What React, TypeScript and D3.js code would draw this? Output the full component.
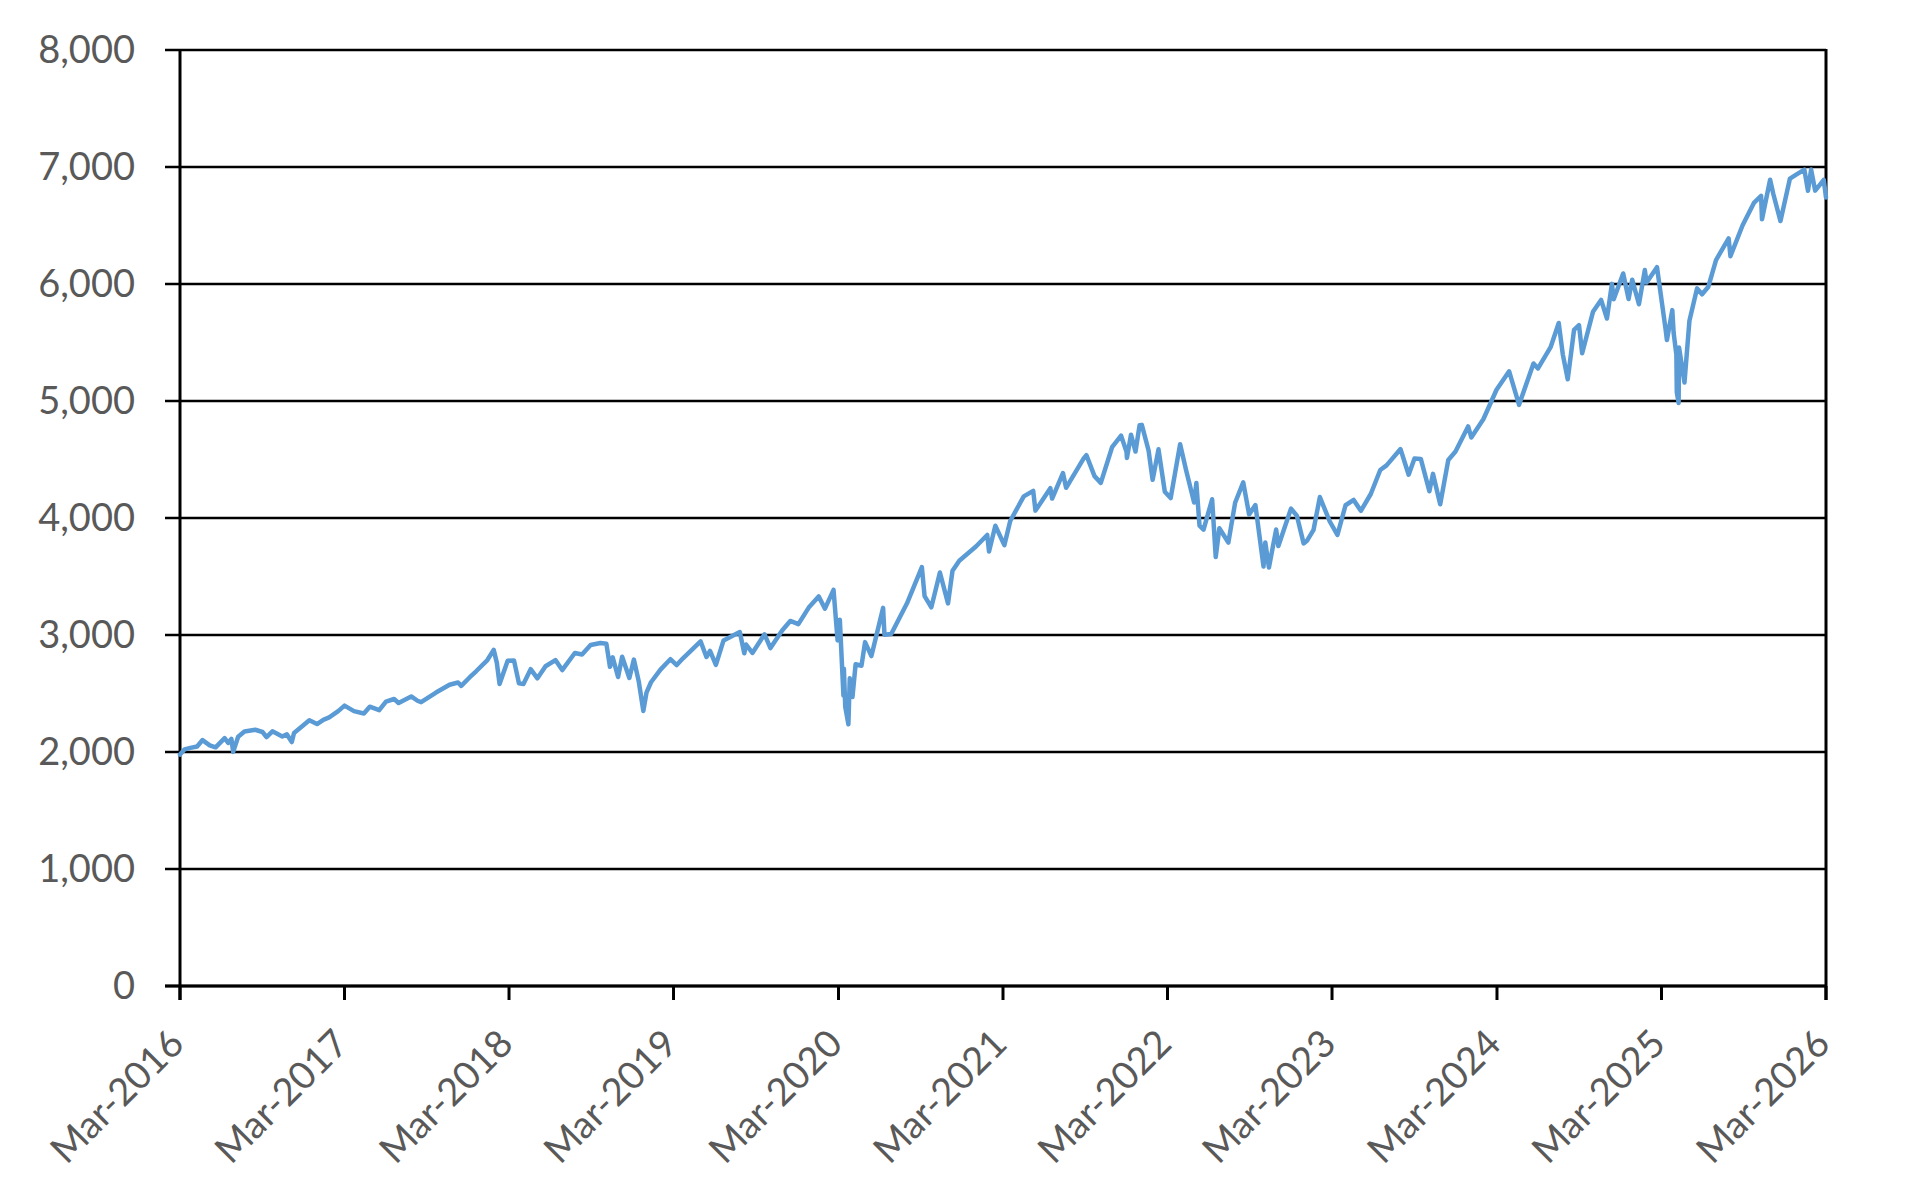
import * as d3 from 'd3';
import { useEffect, useRef } from 'react';

// S&P 500 style index level (date, close)
const series2016: [string, number][] = [
    ['2016-03-01', 1978], ['2016-03-11', 2022], ['2016-03-24', 2035], ['2016-04-08', 2047], ['2016-04-20', 2102],
    ['2016-05-06', 2057], ['2016-05-19', 2040], ['2016-06-08', 2119], ['2016-06-16', 2077], ['2016-06-23', 2113],
    ['2016-06-27', 2001], ['2016-07-08', 2130], ['2016-07-22', 2175], ['2016-08-15', 2190], ['2016-08-31', 2171],
    ['2016-09-09', 2128], ['2016-09-22', 2177], ['2016-10-14', 2133], ['2016-10-24', 2151], ['2016-11-04', 2085],
    ['2016-11-09', 2163], ['2016-11-25', 2213], ['2016-12-13', 2271], ['2016-12-30', 2239],
];
const series2017: [string, number][] = [
    ['2017-01-13', 2275], ['2017-01-26', 2296], ['2017-02-15', 2349], ['2017-03-01', 2396], ['2017-03-22', 2349],
    ['2017-04-13', 2329], ['2017-04-26', 2387], ['2017-05-17', 2357], ['2017-06-01', 2431], ['2017-06-19', 2453],
    ['2017-06-29', 2419], ['2017-07-27', 2475], ['2017-08-10', 2438], ['2017-08-18', 2426], ['2017-09-20', 2508],
    ['2017-10-20', 2575], ['2017-11-08', 2594], ['2017-11-15', 2565], ['2017-12-04', 2639], ['2017-12-18', 2690],
];
const series2018: [string, number][] = [
    ['2018-01-12', 2786], ['2018-01-26', 2873], ['2018-02-02', 2762], ['2018-02-08', 2581], ['2018-02-26', 2780],
    ['2018-03-12', 2783], ['2018-03-23', 2588], ['2018-04-02', 2582], ['2018-04-18', 2708], ['2018-05-03', 2630],
    ['2018-05-21', 2733], ['2018-06-12', 2786], ['2018-06-27', 2700], ['2018-07-25', 2846], ['2018-08-10', 2833],
    ['2018-08-29', 2914], ['2018-09-20', 2931], ['2018-10-03', 2925], ['2018-10-11', 2728], ['2018-10-17', 2809],
    ['2018-10-29', 2641], ['2018-11-07', 2814], ['2018-11-23', 2633], ['2018-12-03', 2790], ['2018-12-14', 2600],
    ['2018-12-24', 2351], ['2018-12-31', 2507],
];
const series2019: [string, number][] = [
    ['2019-01-10', 2596], ['2019-01-31', 2704], ['2019-02-22', 2793], ['2019-03-08', 2743], ['2019-03-22', 2801],
    ['2019-04-30', 2946], ['2019-05-13', 2812], ['2019-05-21', 2864], ['2019-06-03', 2744], ['2019-06-20', 2954],
    ['2019-07-26', 3025], ['2019-08-05', 2844], ['2019-08-09', 2919], ['2019-08-23', 2847], ['2019-09-19', 3006],
    ['2019-10-02', 2888], ['2019-10-28', 3039], ['2019-11-15', 3120], ['2019-12-03', 3093], ['2019-12-27', 3240],
];
const series2020: [string, number][] = [
    ['2020-01-17', 3330], ['2020-01-31', 3225], ['2020-02-19', 3386], ['2020-02-28', 2954], ['2020-03-04', 3130],
    ['2020-03-12', 2481], ['2020-03-13', 2711], ['2020-03-16', 2386], ['2020-03-23', 2237], ['2020-03-26', 2630],
    ['2020-04-01', 2470], ['2020-04-08', 2750], ['2020-04-21', 2737], ['2020-04-29', 2939], ['2020-05-13', 2820],
    ['2020-06-08', 3232], ['2020-06-11', 3002], ['2020-06-26', 3009], ['2020-07-31', 3271], ['2020-09-02', 3580],
    ['2020-09-08', 3332], ['2020-09-23', 3237], ['2020-10-12', 3534], ['2020-10-30', 3270], ['2020-11-09', 3550],
    ['2020-11-24', 3635], ['2020-12-31', 3756],
];
const series2021: [string, number][] = [
    ['2021-01-25', 3855], ['2021-01-29', 3714], ['2021-02-12', 3934], ['2021-03-04', 3768], ['2021-03-17', 3974],
    ['2021-04-16', 4185], ['2021-05-07', 4232], ['2021-05-12', 4063], ['2021-06-14', 4255], ['2021-06-18', 4166],
    ['2021-07-12', 4384], ['2021-07-19', 4258], ['2021-08-27', 4509], ['2021-09-02', 4537], ['2021-09-20', 4358],
    ['2021-10-04', 4300], ['2021-10-29', 4605], ['2021-11-18', 4704], ['2021-11-30', 4567], ['2021-12-01', 4513],
    ['2021-12-10', 4712], ['2021-12-20', 4568], ['2021-12-29', 4793],
];
const series2022: [string, number][] = [
    ['2022-01-03', 4796], ['2022-01-18', 4577], ['2022-01-27', 4326], ['2022-02-09', 4587], ['2022-02-23', 4225],
    ['2022-03-08', 4170], ['2022-03-29', 4631], ['2022-04-11', 4413], ['2022-04-29', 4132], ['2022-05-04', 4300],
    ['2022-05-11', 3935], ['2022-05-20', 3901], ['2022-06-08', 4160], ['2022-06-16', 3666], ['2022-06-24', 3912],
    ['2022-07-14', 3790], ['2022-07-29', 4130], ['2022-08-16', 4305], ['2022-08-29', 4031], ['2022-09-12', 4110],
    ['2022-09-30', 3585], ['2022-10-04', 3791], ['2022-10-12', 3577], ['2022-10-28', 3901], ['2022-11-02', 3760],
    ['2022-11-30', 4080], ['2022-12-13', 4019], ['2022-12-28', 3783],
];
const series2023: [string, number][] = [
    ['2023-01-05', 3808], ['2023-01-19', 3898], ['2023-02-02', 4179], ['2023-02-24', 3970], ['2023-03-13', 3855],
    ['2023-03-31', 4109], ['2023-04-18', 4154], ['2023-05-04', 4061], ['2023-05-26', 4205], ['2023-06-16', 4410],
    ['2023-06-30', 4450], ['2023-07-31', 4589], ['2023-08-18', 4370], ['2023-08-31', 4508], ['2023-09-14', 4505],
    ['2023-10-03', 4229], ['2023-10-11', 4377], ['2023-10-27', 4117], ['2023-11-14', 4496], ['2023-11-30', 4568],
    ['2023-12-28', 4783],
];
const series2024: [string, number][] = [
    ['2024-01-04', 4688], ['2024-01-31', 4846], ['2024-02-29', 5096], ['2024-03-28', 5254], ['2024-04-19', 4967],
    ['2024-05-21', 5321], ['2024-05-31', 5278], ['2024-06-28', 5460], ['2024-07-16', 5667], ['2024-07-25', 5399],
    ['2024-08-05', 5186], ['2024-08-19', 5608], ['2024-08-30', 5648], ['2024-09-06', 5408], ['2024-09-30', 5762],
    ['2024-10-18', 5864], ['2024-10-31', 5705], ['2024-11-11', 6001], ['2024-11-15', 5870], ['2024-12-06', 6090],
    ['2024-12-18', 5872], ['2024-12-26', 6037],
];
const series2025: [string, number][] = [
    ['2025-01-10', 5827], ['2025-01-23', 6119], ['2025-01-27', 6012], ['2025-02-19', 6144], ['2025-03-10', 5615],
    ['2025-03-13', 5521], ['2025-03-25', 5777], ['2025-03-28', 5581], ['2025-04-03', 5396], ['2025-04-04', 5074],
    ['2025-04-08', 4983], ['2025-04-09', 5457], ['2025-04-21', 5158], ['2025-05-02', 5686], ['2025-05-19', 5963],
    ['2025-05-30', 5912], ['2025-06-13', 5977], ['2025-06-30', 6205], ['2025-07-28', 6390], ['2025-08-01', 6238],
    ['2025-08-28', 6502], ['2025-09-22', 6693], ['2025-10-08', 6753], ['2025-10-10', 6553], ['2025-10-28', 6891],
    ['2025-11-04', 6771], ['2025-11-20', 6538], ['2025-12-11', 6901], ['2025-12-24', 6932],
];
const series2026: [string, number][] = [
    ['2026-01-12', 6977], ['2026-01-20', 6797], ['2026-01-27', 6978], ['2026-02-05', 6798], ['2026-02-13', 6836],
    ['2026-02-24', 6890], ['2026-03-01', 6740],
];

const xTickLabels = [
    'Mar-2016', 'Mar-2017', 'Mar-2018', 'Mar-2019', 'Mar-2020', 'Mar-2021',
    'Mar-2022', 'Mar-2023', 'Mar-2024', 'Mar-2025', 'Mar-2026',
];
const yTicks = [0, 1000, 2000, 3000, 4000, 5000, 6000, 7000, 8000];

const App = () => {
    const ref = useRef<any>();

    useEffect(() => {
        const parseDate = d3.timeParse('%Y-%m-%d');
        const parseTick = d3.timeParse('%b-%Y');
        const dataset = [
            ...series2016, ...series2017, ...series2018, ...series2019, ...series2020, ...series2021,
            ...series2022, ...series2023, ...series2024, ...series2025, ...series2026,
        ].map(([d, v]) => ({ date: parseDate(d) as Date, value: v }));

        const margin = { top: 50, left: 180, right: 1826, bottom: 986 };
        const tickDates = xTickLabels.map((t) => parseTick(t) as Date);

        const svg = d3.select<any, any>(ref.current);
        svg.selectAll('*').remove();

        const xScale = d3.scaleTime()
            .domain([tickDates[0], tickDates[tickDates.length - 1]])
            .range([margin.left, margin.right]);
        const yScale = d3.scaleLinear()
            .domain([0, 8000])
            .range([margin.bottom, margin.top]);

        // horizontal gridlines incl. left tick stub
        svg.append('g')
            .selectAll('line')
            .data(yTicks)
            .join('line')
            .attr('x1', margin.left - 15)
            .attr('x2', margin.right)
            .attr('y1', (d) => yScale(d))
            .attr('y2', (d) => yScale(d))
            .attr('stroke', '#000')
            .attr('stroke-width', 2.4);

        // y labels
        svg.append('g')
            .selectAll('text')
            .data(yTicks)
            .join('text')
            .attr('x', 135)
            .attr('y', (d) => yScale(d))
            .attr('dy', '0.35em')
            .attr('text-anchor', 'end')
            .attr('fill', '#595959')
            .style('font-family', 'Lato, sans-serif')
            .style('font-size', '38px')
            .text((d) => d3.format(',')(d));

        // x axis line and ticks
        svg.append('line')
            .attr('x1', margin.left - 15)
            .attr('x2', margin.right)
            .attr('y1', margin.bottom)
            .attr('y2', margin.bottom)
            .attr('stroke', '#000')
            .attr('stroke-width', 3);

        svg.append('g')
            .selectAll('line')
            .data(tickDates)
            .join('line')
            .attr('x1', (d) => xScale(d))
            .attr('x2', (d) => xScale(d))
            .attr('y1', margin.bottom)
            .attr('y2', margin.bottom + 14)
            .attr('stroke', '#000')
            .attr('stroke-width', 3);

        // left axis and right border
        [margin.left, margin.right].forEach((x) => {
            svg.append('line')
                .attr('x1', x)
                .attr('x2', x)
                .attr('y1', margin.top - 1)
                .attr('y2', margin.bottom + 14)
                .attr('stroke', '#000')
                .attr('stroke-width', 3);
        });

        // rotated x labels
        svg.append('g')
            .selectAll('text')
            .data(tickDates)
            .join('text')
            .attr('transform', (d) => `translate(${xScale(d) + 6}, ${margin.bottom + 60}) rotate(-45)`)
            .attr('text-anchor', 'end')
            .attr('fill', '#595959')
            .style('font-family', 'Lato, sans-serif')
            .style('font-size', '38px')
            .text((d, i) => xTickLabels[i]);

        const line = d3.line<any>()
            .x((d) => xScale(d.date))
            .y((d) => yScale(d.value));

        svg.append('path')
            .datum(dataset)
            .attr('d', line)
            .attr('fill', 'none')
            .attr('stroke', '#5B9BD5')
            .attr('stroke-width', 4.5)
            .attr('stroke-linejoin', 'round')
            .attr('stroke-linecap', 'round');
    });

    return (
        <svg
            ref={ref}
            width={1918}
            height={1198}
            style={{ position: 'absolute', left: 0, top: 0, background: '#fff' }}
        ></svg>
    );
};

export default App;
